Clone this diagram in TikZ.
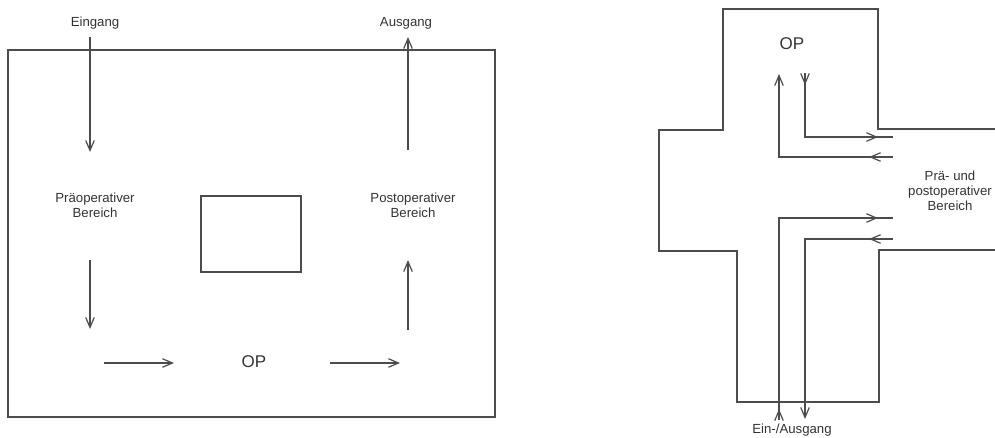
\documentclass[tikz,border=0pt]{standalone}
\usepackage{fontspec}
\setmainfont{Liberation Sans}
\usetikzlibrary{arrows.meta}
\begin{document}
\begin{tikzpicture}[x=1pt,y=-1pt,
  wall/.style={draw=black!70, line width=1.2pt},
  flow/.style={draw=black!70, line width=1.2pt},
  tip/.style={-{Straight Barb[length=10pt,width=8.5pt]}},
  lbl/.style={font=\fontsize{13.2}{15}\selectfont, text=black!80, inner sep=0pt, align=center, anchor=base},
  big/.style={font=\fontsize{17}{20}\selectfont, text=black!80, inner sep=0pt, anchor=base}
]
\useasboundingbox (0,0) rectangle (995,437);

% ---------- linear layout ----------
\draw[wall] (8,50) rectangle (495,417);
\draw[wall] (201,196) rectangle (301,272);

\node[lbl] (ein) at (95,26) {Eingang};
\node[lbl] (aus) at (406,26) {Ausgang};
\node[lbl] (pre) at (95,217) {Präoperativer\\Bereich};
\node[lbl] (post) at (413,217) {Postoperativer\\Bereich};
\node[big] (op1) at (254,367) {OP};

\coordinate (e1) at (90,37);   \coordinate (e2) at (90,152);
\coordinate (a1) at (408,150); \coordinate (a2) at (408,37);
\coordinate (d1) at (90,260);  \coordinate (d2) at (90,329);
\coordinate (u1) at (408,330); \coordinate (u2) at (408,260);
\coordinate (h1) at (104,363); \coordinate (h2) at (174,363);
\coordinate (h3) at (330,363); \coordinate (h4) at (400,363);

\draw[flow,tip] (e1) -- (e2);
\draw[flow,tip] (a1) -- (a2);
\draw[flow,tip] (d1) -- (d2);
\draw[flow,tip] (u1) -- (u2);
\draw[flow,tip] (h1) -- (h2);
\draw[flow,tip] (h3) -- (h4);

% ---------- cross-shaped layout ----------
\draw[wall] (995,129) -- (878,129) -- (878,9) -- (723,9) -- (723,130)
  -- (659,130) -- (659,251) -- (737,251) -- (737,402) -- (879,402)
  -- (879,250) -- (995,250);

\node[big] (op2) at (792,49) {OP};
\node[lbl] (pp) at (950,210) {Prä- und\\postoperativer\\Bereich};
\node[lbl] (io) at (792,433) {Ein-/Ausgang};

% out of the OP
\coordinate (oa) at (805,73);
\coordinate (ob) at (805,137);
\coordinate (oc) at (893,137);
\draw[flow] (oa) -- (ob) -- (oc);
\draw[flow,tip] (oa) -- (805,85);
\draw[flow,tip] (866,137) -- (878,137);

% into the OP
\coordinate (ia) at (893,157);
\coordinate (ib) at (779,157);
\coordinate (ic) at (779,74);
\draw[flow,tip] (ia) -- (ib) -- (ic);
\draw[flow,tip] (881,157) -- (869,157);

% entrance to the pre/post area
\coordinate (ea) at (779,420);
\coordinate (eb) at (779,218);
\coordinate (ec) at (893,218);
\draw[flow] (ea) -- (eb) -- (ec);
\draw[flow,tip] (779,420) -- (779,409);
\draw[flow,tip] (866,218) -- (878,218);

% exit from the pre/post area
\coordinate (xa) at (893,239);
\coordinate (xb) at (805,239);
\coordinate (xc) at (805,419);
\draw[flow,tip] (xa) -- (xb) -- (xc);
\draw[flow,tip] (881,239) -- (869,239);
\end{tikzpicture}
\end{document}
